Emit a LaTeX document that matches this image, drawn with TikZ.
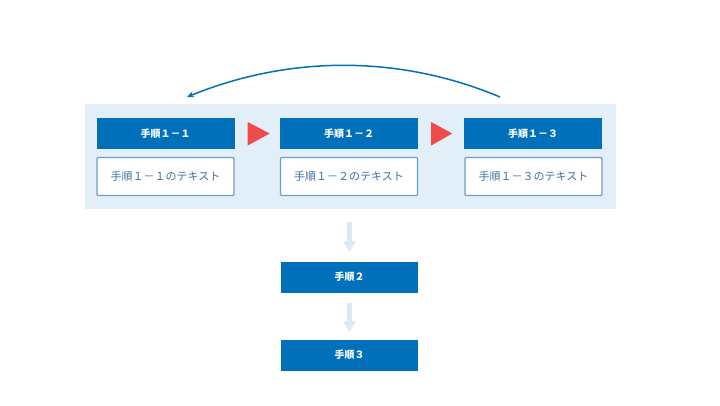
\documentclass[tikz,border=0pt]{standalone}
\usepackage{fontspec}
\setmainfont{Noto Sans CJK JP}
\usetikzlibrary{arrows.meta}
\definecolor{stepblue}{HTML}{0070BB}
\definecolor{panelblue}{HTML}{E3EFF8}
\definecolor{boxline}{HTML}{6C9ECB}
\definecolor{textblue}{HTML}{3E6FA3}
\definecolor{marker}{HTML}{F04B4B}
\definecolor{flowgray}{HTML}{DCE8F3}
\begin{document}
\begin{tikzpicture}[x=1pt, y=-1pt,
	head/.style={fill=stepblue, text=white, inner sep=0pt, minimum width=138pt, minimum height=31pt, font=\bfseries\fontsize{10}{12}\selectfont},
	body/.style={draw=boxline, line width=1.2pt, rounded corners=1pt, fill=white, text=textblue, inner sep=0pt, minimum width=137pt, minimum height=38pt, font=\fontsize{11}{13}\selectfont},
	flow/.style={draw=flowgray, line width=5pt, -{Triangle[length=11pt, width=12pt]}}]
	\useasboundingbox (0, 0) rectangle (720, 405);
	
	\node [fill=panelblue, inner sep=0pt, minimum width=531pt, minimum height=105pt] (panel) at (350.5, 156.5) {};
	
	\node [head] (h1) at (165.5, 133.5) {手順１－１};
	\node [head] (h2) at (349, 133.5) {手順１－２};
	\node [head] (h3) at (533, 133.5) {手順１－３};
	
	\node [body] (b1) at (165.5, 176.5) {手順１－１のテキスト};
	\node [body] (b2) at (349, 176.5) {手順１－２のテキスト};
	\node [body] (b3) at (533.5, 176.5) {手順１－３のテキスト};
	
	\fill[marker] ([xshift=13pt, yshift=11.5pt]h1.east) -- ([xshift=35pt]h1.east) -- ([xshift=13pt, yshift=-12pt]h1.east) -- cycle;
	\fill[marker] ([xshift=13pt, yshift=11.5pt]h2.east) -- ([xshift=34pt]h2.east) -- ([xshift=13pt, yshift=-12pt]h2.east) -- cycle;
	
	\coordinate (back1) at (500, 97);
	\coordinate (back2) at (187, 97);
	\draw[stepblue, line width=1.5pt, -{Stealth[length=7pt, width=6pt]}] (back1) .. controls (400, 55) and (290, 55) .. (back2);
	
	\node [head, minimum width=137pt] (s2) at (349.5, 277) {手順２};
	\node [head, minimum width=137pt] (s3) at (349.5, 355) {手順３};
	
	\draw[flow] ([xshift=-1pt, yshift=-13pt]panel.south) -- ([yshift=9pt]s2.north);
	\draw[flow] ([yshift=-10pt]s2.south) -- ([yshift=7pt]s3.north);
\end{tikzpicture}
\end{document}
